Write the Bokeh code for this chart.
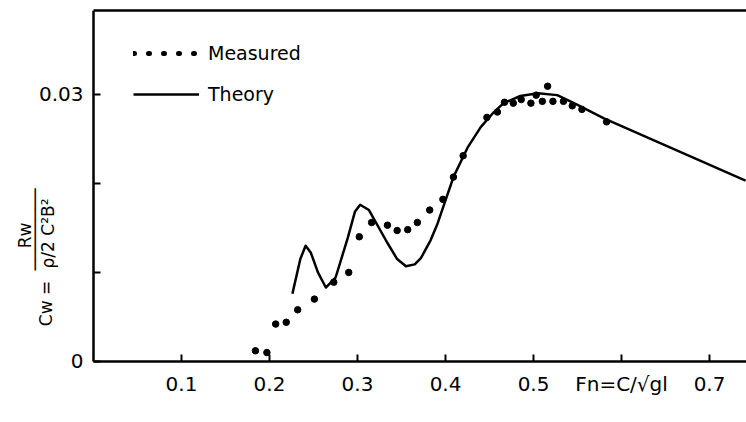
import math
from bokeh.plotting import figure
from bokeh.models import (Range1d, FixedTicker, LinearAxis, Label, Legend, LegendItem)
from bokeh.embed import file_html
from bokeh.resources import INLINE

# ---- data ----
measured_fn = [0.184, 0.197, 0.207, 0.219, 0.232, 0.251, 0.273, 0.290, 0.302, 0.316,
               0.334, 0.345, 0.357, 0.368, 0.382, 0.397, 0.409, 0.420, 0.447, 0.459,
               0.467, 0.477, 0.486, 0.497, 0.503, 0.510, 0.516, 0.522, 0.534, 0.544,
               0.555, 0.583]
measured_cw = [0.0012, 0.0010, 0.0042, 0.0044, 0.0058, 0.0070, 0.0089, 0.0100, 0.0140, 0.0156,
               0.0153, 0.0147, 0.0148, 0.0156, 0.0170, 0.0182, 0.0207, 0.0231, 0.0274, 0.0280,
               0.0291, 0.0290, 0.0294, 0.0290, 0.0299, 0.0292, 0.0309, 0.0292, 0.0292, 0.0287,
               0.0283, 0.0269]

theory_fn = [0.226, 0.235, 0.241, 0.247, 0.255, 0.264, 0.275, 0.289, 0.297, 0.303, 0.313,
             0.334, 0.345, 0.355, 0.365, 0.372, 0.383, 0.391, 0.409, 0.425, 0.440, 0.455,
             0.466, 0.485, 0.505, 0.527, 0.550, 0.580, 0.741]
theory_cw = [0.0076, 0.0115, 0.0130, 0.0122, 0.0100, 0.0083, 0.0094, 0.0139, 0.0168, 0.0176, 0.0170,
             0.0133, 0.0115, 0.0107, 0.0109, 0.0116, 0.0136, 0.0155, 0.0207, 0.0240, 0.0263, 0.0280,
             0.0290, 0.0298, 0.0301, 0.0299, 0.0288, 0.0273, 0.0203]

x_ticks = [0.1, 0.2, 0.3, 0.4, 0.5, 0.6, 0.7]
x_tick_labels = ["0.1", "0.2", "0.3", "0.4", "0.5", "Fn=C/√gl", "0.7"]
y_ticks = [0.0, 0.01, 0.02, 0.03]
y_tick_labels = ["0", "", "", "0.03"]

X_MIN, X_MAX = 0.0, 0.742
Y_MIN, Y_MAX = 0.0, 0.0394

FONT = "DejaVu Sans"

# frame spans the whole page; both axes are fixed at the origin inside it
p = figure(width=746, height=422, output_backend="svg", toolbar_location=None,
           x_range=Range1d(-0.1057, X_MAX), y_range=Range1d(-0.00685, Y_MAX),
           min_border_left=0, min_border_right=0, min_border_top=10, min_border_bottom=0)
p.outline_line_color = None
p.grid.visible = False
p.background_fill_color = "white"
p.border_fill_color = "white"

for ax in (p.xaxis[0], p.yaxis[0]):
    ax.axis_line_width = 2.5
    ax.axis_line_color = "black"
    ax.major_tick_line_width = 2
    ax.major_tick_line_color = "black"
    ax.major_tick_in = 7
    ax.major_tick_out = 0
    ax.minor_tick_line_color = None
    ax.major_label_text_font = FONT
    ax.major_label_text_font_size = "20px"
    ax.major_label_text_color = "black"

p.xaxis[0].ticker = FixedTicker(ticks=x_ticks)
p.xaxis[0].major_label_overrides = {t: l for t, l in zip(x_ticks, x_tick_labels)}
p.xaxis[0].major_label_standoff = 11
p.xaxis[0].bounds = (X_MIN, X_MAX)
p.xaxis[0].fixed_location = Y_MIN

p.yaxis[0].ticker = FixedTicker(ticks=y_ticks)
p.yaxis[0].major_label_overrides = {t: l for t, l in zip(y_ticks, y_tick_labels)}
p.yaxis[0].major_label_standoff = 10
p.yaxis[0].fixed_location = X_MIN
p.yaxis[0].bounds = (Y_MIN, Y_MAX)

top = LinearAxis(axis_line_width=2.5, axis_line_color="black",
                 major_tick_line_color=None, minor_tick_line_color=None,
                 major_label_text_font_size="0px", ticker=FixedTicker(ticks=[]),
                 bounds=(X_MIN, X_MAX))
p.add_layout(top, "above")

theory = p.line(theory_fn, theory_cw, line_color="black", line_width=2.5, line_join="round")
meas = p.scatter(measured_fn, measured_cw, size=6.5, color="black")

# legend sample for the dotted "Measured" key (a single NaN point, draws nothing in the plot)
dots_key = p.line(x=[float("nan")], y=[float("nan")], line_color="black", line_width=5,
                  line_dash="1 14", line_cap="round")

legend = Legend(items=[LegendItem(label="Measured", renderers=[dots_key]),
                       LegendItem(label="Theory", renderers=[theory])],
                location=(133, 317), margin=0, padding=0, spacing=19,
                glyph_width=66, glyph_height=20, label_standoff=9,
                label_text_font=FONT, label_text_font_size="19px", label_text_color="black",
                border_line_color=None, background_fill_alpha=0)
p.add_layout(legend, "center")

lab_style = dict(x_units="screen", y_units="screen", angle=math.pi / 2,
                 text_font=FONT, text_font_size="17px", text_color="black",
                 text_align="center", text_baseline="middle")
p.add_layout(Label(x=45, y=119, text="Cw =", **lab_style))
p.add_layout(Label(x=24, y=187, text="Rw", **lab_style))
p.add_layout(Label(x=34, y=193, text="────────", **lab_style))
p.add_layout(Label(x=47, y=189, text="ρ/2 C²B²", **lab_style))

open("out.html", "w").write(file_html(p, INLINE))
